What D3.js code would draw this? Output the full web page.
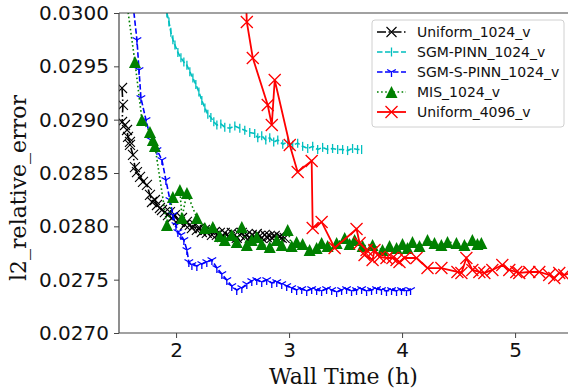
<!DOCTYPE html>
<html>
<head>
<meta charset="utf-8">
<script src="https://cdn.jsdelivr.net/npm/d3@7"></script>
<style>
  body { margin: 0; background: #fff; }
  svg { display: block; }
</style>
</head>
<body>
<div id="chart"></div>
<script>
// values (wall time in hours, l2 relative error)
const uniform1024 = [
  [1.522,0.029297],[1.530,0.029138],[1.522,0.028978],[1.548,0.028950],[1.566,0.028903],
  [1.575,0.028838],[1.592,0.028791],[1.592,0.028763],[1.619,0.028669],[1.636,0.028556],
  [1.654,0.028509],[1.681,0.028463],[1.707,0.028416],[1.742,0.028388],[1.769,0.028294],
  [1.787,0.028228],[1.813,0.028247],[1.831,0.028200],[1.857,0.028172],[1.875,0.028153],
  [1.901,0.028134],[1.928,0.028106],[1.946,0.028134],[1.963,0.028078],[1.990,0.028106],
  [2.016,0.028059],[2.034,0.028041],[2.052,0.028078],[2.078,0.028013],[2.096,0.028041],
  [2.122,0.028013],[2.140,0.027984],[2.166,0.028013],[2.184,0.027966],[2.211,0.027984],
  [2.228,0.027947],[2.255,0.027966],[2.272,0.027938],[2.299,0.027966],[2.317,0.027919],
  [2.343,0.027947],[2.361,0.027919],[2.387,0.027938],[2.405,0.027900],[2.431,0.027938],
  [2.449,0.027919],[2.476,0.027900],[2.493,0.027938],[2.520,0.027919],[2.537,0.027891],
  [2.564,0.027919],[2.582,0.027938],[2.608,0.027900],[2.626,0.027919],[2.652,0.027891],
  [2.670,0.027919],[2.696,0.027900],[2.714,0.027928],[2.741,0.027910],[2.758,0.027891],
  [2.785,0.027919],[2.802,0.027900],[2.829,0.027910],[2.847,0.027891],[2.873,0.027910],
  [2.891,0.027881],[2.917,0.027900],[2.935,0.027891],[2.961,0.027891]
];
const sgmPinn1024 = [
  [1.919,0.03000],[1.937,0.029916],[1.954,0.02982],[1.972,0.02975],[1.990,0.02970],
  [2.016,0.02963],[2.043,0.02958],[2.069,0.02954],[2.096,0.02951],[2.122,0.02945],
  [2.149,0.02939],[2.175,0.02933],[2.202,0.02926],[2.228,0.02918],[2.255,0.02911],
  [2.281,0.02905],[2.308,0.02902],[2.334,0.02898],[2.361,0.02895],[2.396,0.02896],
  [2.431,0.02893],[2.476,0.02892],[2.520,0.02894],[2.564,0.02892],[2.608,0.02890],
  [2.652,0.02888],[2.696,0.02887],[2.723,0.02883],[2.758,0.02885],[2.794,0.02881],
  [2.829,0.02883],[2.864,0.02879],[2.900,0.02881],[2.944,0.02877],[2.988,0.02879],
  [3.032,0.02876],[3.076,0.02878],[3.120,0.02875],[3.165,0.02873],[3.209,0.02875],
  [3.253,0.02872],[3.297,0.02874],[3.341,0.02872],[3.385,0.02873],[3.430,0.02872],
  [3.474,0.02872],[3.518,0.02871],[3.562,0.02873],[3.606,0.02872],[3.642,0.02872]
];
const sgmSPinn1024 = [
  [1.619,0.03008],[1.654,0.029747],[1.672,0.029466],[1.689,0.029203],[1.734,0.028997],
  [1.778,0.028809],[1.831,0.028716],[1.875,0.028622],[1.910,0.028434],[1.946,0.028247],
  [1.972,0.028106],[1.999,0.028013],[2.016,0.027947],[2.043,0.027919],[2.069,0.027872],
  [2.096,0.027778],[2.113,0.027666],[2.140,0.027638],[2.184,0.027628],[2.228,0.027647],
  [2.272,0.027666],[2.317,0.027684],[2.361,0.027609],[2.405,0.027553],[2.449,0.027497],
  [2.493,0.027441],[2.537,0.027403],[2.582,0.027422],[2.626,0.027459],[2.670,0.027488],
  [2.714,0.027497],[2.758,0.027478],[2.802,0.027497],[2.847,0.027469],[2.891,0.027478],
  [2.935,0.027459],[2.979,0.027441],[3.023,0.027422],[3.067,0.027403],[3.112,0.027413],
  [3.156,0.027394],[3.200,0.027413],[3.244,0.027403],[3.288,0.027394],[3.332,0.027413],
  [3.377,0.027403],[3.421,0.027384],[3.465,0.027403],[3.509,0.027413],[3.553,0.027394],
  [3.597,0.027403],[3.642,0.027413],[3.686,0.027394],[3.730,0.027403],[3.774,0.027413],
  [3.818,0.027403],[3.862,0.027394],[3.907,0.027403],[3.951,0.027394],[3.995,0.027403],
  [4.039,0.027394],[4.075,0.027403]
];
const mis1024 = [
  [1.566,0.03008],[1.636,0.029541],[1.698,0.028997],[1.769,0.028884],[1.795,0.028809],
  [1.813,0.028753],[1.919,0.028013],[1.972,0.028275],[2.034,0.028341],[2.052,0.028078],
  [2.096,0.028313],[2.184,0.028078],[2.255,0.027984],[2.325,0.027994],[2.387,0.027910],
  [2.431,0.027872],[2.493,0.027919],[2.537,0.027853],[2.582,0.027994],[2.626,0.027825],
  [2.670,0.027872],[2.714,0.027900],[2.758,0.027834],[2.829,0.027806],[2.891,0.027872],
  [2.935,0.027825],[2.988,0.027966],[3.023,0.027816],[3.067,0.027853],[3.120,0.027834],
  [3.182,0.027778],[3.244,0.027797],[3.288,0.027844],[3.341,0.027816],[3.421,0.027844],
  [3.492,0.027891],[3.536,0.027834],[3.580,0.027872],[3.651,0.027816],[3.739,0.027825],
  [3.827,0.027778],[3.889,0.027816],[3.951,0.027797],[4.004,0.027834],[4.048,0.027797],
  [4.092,0.027853],[4.154,0.027816],[4.225,0.027872],[4.287,0.027844],[4.348,0.027825],
  [4.402,0.027853],[4.481,0.027844],[4.552,0.027825],[4.622,0.027872],[4.667,0.027834],
  [4.702,0.027844]
];
const uniform4096 = [
  [2.590,0.03100],[2.626,0.029916],[2.679,0.029578],[2.811,0.029138],[2.847,0.028950],
  [2.873,0.029372],[3.006,0.028763],[3.076,0.028509],[3.200,0.028613],[3.209,0.027984],
  [3.288,0.028041],[3.403,0.027797],[3.597,0.027975],[3.624,0.027844],[3.686,0.027778],
  [3.668,0.027731],[3.739,0.027684],[3.756,0.027778],[3.801,0.027713],[3.862,0.027703],
  [3.915,0.027703],[3.951,0.027684],[3.977,0.027666],[4.022,0.027703],[4.128,0.027703],
  [4.225,0.027609],[4.348,0.027609],[4.490,0.027572],[4.525,0.027563],[4.569,0.027703],
  [4.622,0.027591],[4.684,0.027572],[4.728,0.027563],[4.799,0.027591],[4.887,0.027638],
  [4.949,0.027591],[5.011,0.027572],[5.037,0.027563],[5.126,0.027572],[5.214,0.027572],
  [5.302,0.027544],[5.347,0.027516],[5.391,0.027563],[5.435,0.027544],[5.523,0.027572]
];
const seriesNames = ['Uniform_1024_v','SGM-PINN_1024_v','SGM-S-PINN_1024_v','MIS_1024_v','Uniform_4096_v'];
const xTicks = [2, 3, 4, 5];
const yTicks = [0.0270, 0.0275, 0.0280, 0.0285, 0.0290, 0.0295, 0.0300];

const W = 568, H = 392;
const mLeft = 119, mTop = 13, mRight = 570, mBottom = 333;

const svg = d3.select('#chart').append('svg')
  .attr('width', W).attr('height', H);

const x = d3.scaleLinear().domain([1.495, 5.486]).range([mLeft, mRight]);
const y = d3.scaleLinear().domain([0.0270, 0.0300]).range([mBottom, mTop]);

svg.append('clipPath').attr('id', 'plotclip')
  .append('rect').attr('x', mLeft).attr('y', mTop)
  .attr('width', mRight - mLeft).attr('height', mBottom - mTop);

// marker shapes, centred on 0,0
function markX(s) { return `M${-s},${-s}L${s},${s}M${-s},${s}L${s},${-s}`; }
function markVline(s) { return `M0,${-s}L0,${s}`; }
function markTriDown(s) { return `M0,0L0,${s}M0,0L${0.866*s},${-0.5*s}M0,0L${-0.866*s},${-0.5*s}`; }
function markTriUp(s) { return `M0,${-s}L${-s},${s}L${s},${s}Z`; }

const styles = [
  { data: uniform1024,  color: '#000000', dash: '9,2.5,1.5,2.5', lw: 1.6, mark: markX(5),      fill: false, mw: 1.1 },
  { data: sgmPinn1024,  color: '#00bfbf', dash: '5.5,2.5',       lw: 1.6, mark: markVline(4.5), fill: false, mw: 1.3 },
  { data: sgmSPinn1024, color: '#0000ff', dash: '5.5,2.5',       lw: 1.6, mark: markTriDown(5), fill: false, mw: 1.3 },
  { data: mis1024,      color: '#008000', dash: '1.6,2.5',       lw: 1.6, mark: markTriUp(6),  fill: true,  mw: 0 },
  { data: uniform4096,  color: '#ff0000', dash: null,            lw: 1.8, mark: markX(6),      fill: false, mw: 1.3 }
];

const plot = svg.append('g').attr('clip-path', 'url(#plotclip)');
const line = d3.line().x(d => x(d[0])).y(d => y(d[1]));

styles.forEach(s => {
  const g = plot.append('g');
  g.append('path')
    .datum(s.data)
    .attr('fill', 'none')
    .attr('stroke', s.color)
    .attr('stroke-width', s.lw)
    .attr('stroke-dasharray', s.dash)
    .attr('d', line);
  g.selectAll('.m')
    .data(s.data)
    .enter().append('path')
    .attr('transform', d => `translate(${x(d[0])},${y(d[1])})`)
    .attr('d', s.mark)
    .attr('fill', s.fill ? s.color : 'none')
    .attr('stroke', s.fill ? 'none' : s.color)
    .attr('stroke-width', s.mw);
});

// axes
const yAxis = svg.append('g')
  .attr('transform', `translate(${mLeft},0)`)
  .call(d3.axisLeft(y).tickValues(yTicks).tickFormat(d3.format('.4f')).tickSize(5).tickSizeOuter(0).tickPadding(5));
const xAxis = svg.append('g')
  .attr('transform', `translate(0,${mBottom})`)
  .call(d3.axisBottom(x).tickValues(xTicks).tickFormat(d3.format('d')).tickSize(5).tickSizeOuter(0).tickPadding(5));
[yAxis, xAxis].forEach(a => {
  a.select('.domain').remove();
  a.selectAll('line').attr('stroke', '#444').attr('stroke-width', 1);
  a.selectAll('text').attr('font-family', 'DejaVu Sans').attr('font-size', 20).attr('fill', '#111');
});

// spines
svg.append('line').attr('x1', mLeft).attr('x2', mLeft).attr('y1', mTop).attr('y2', mBottom)
  .attr('stroke', '#444').attr('stroke-width', 1.2);
svg.append('line').attr('x1', mLeft).attr('x2', mRight).attr('y1', mBottom).attr('y2', mBottom)
  .attr('stroke', '#444').attr('stroke-width', 1.2);
svg.append('line').attr('x1', mLeft).attr('x2', mRight).attr('y1', mTop).attr('y2', mTop)
  .attr('stroke', '#444').attr('stroke-width', 1.2);

svg.append('text')
  .attr('x', (176 + 515) / 2 - 2).attr('y', 384)
  .attr('text-anchor', 'middle')
  .attr('font-family', 'DejaVu Serif').attr('font-size', 22).attr('fill', '#111')
  .text('Wall Time (h)');
svg.append('text')
  .attr('transform', `translate(26,${(mTop + mBottom) / 2 + 15}) rotate(-90)`)
  .attr('text-anchor', 'middle')
  .attr('font-family', 'DejaVu Serif').attr('font-size', 22).attr('fill', '#111')
  .text('l2_relative_error');

// legend
const lg = svg.append('g');
lg.append('rect').attr('x', 372).attr('y', 20).attr('width', 192).attr('height', 107)
  .attr('rx', 3).attr('fill', '#fff').attr('fill-opacity', 0.8)
  .attr('stroke', '#d0d0d0').attr('stroke-width', 1);
styles.forEach((s, i) => {
  const ly = 32 + i * 20;
  lg.append('line').attr('x1', 377).attr('x2', 406).attr('y1', ly).attr('y2', ly)
    .attr('stroke', s.color).attr('stroke-width', s.lw).attr('stroke-dasharray', s.dash);
  lg.append('path').attr('transform', `translate(391.5,${ly})`).attr('d', s.mark)
    .attr('fill', s.fill ? s.color : 'none')
    .attr('stroke', s.fill ? 'none' : s.color)
    .attr('stroke-width', s.mw);
  lg.append('text').attr('x', 417).attr('y', ly).attr('dy', '0.35em')
    .attr('font-family', 'DejaVu Sans').attr('font-size', 14).attr('fill', '#111')
    .text(seriesNames[i]);
});
</script>
</body>
</html>
